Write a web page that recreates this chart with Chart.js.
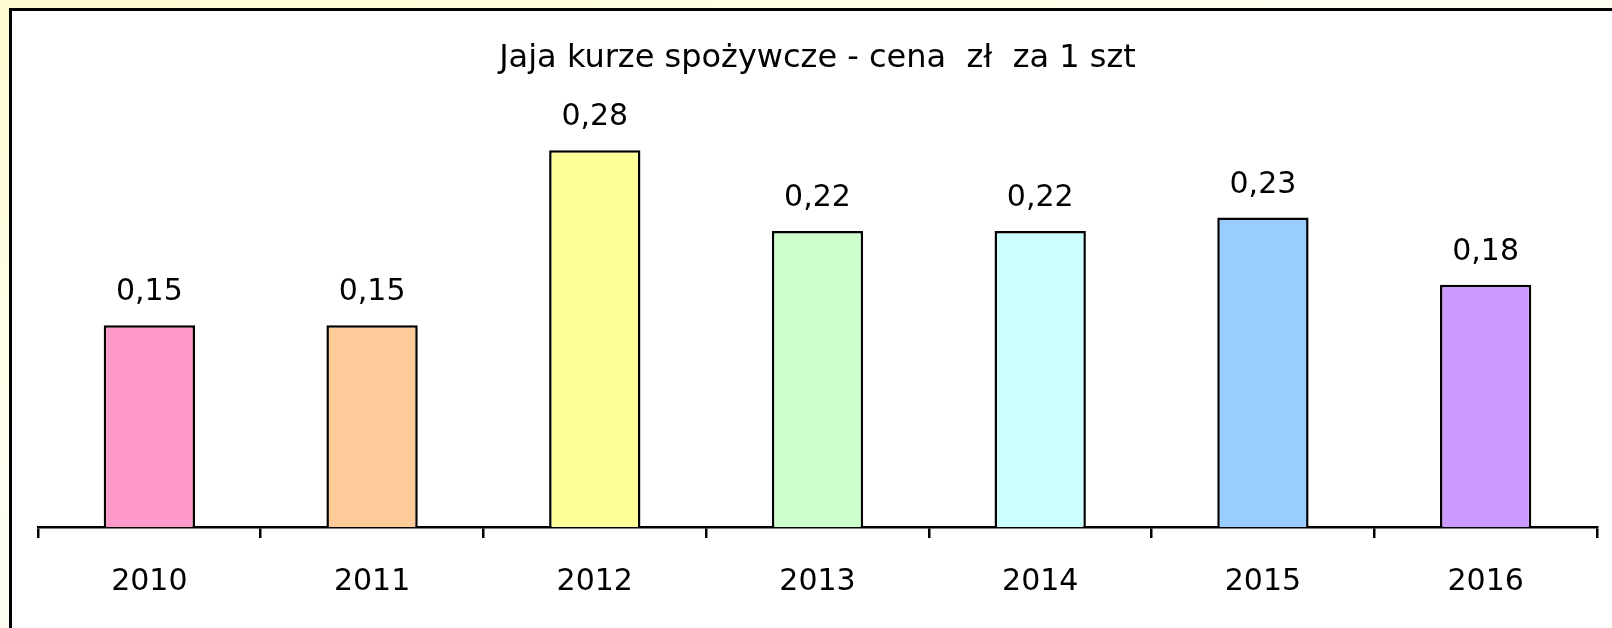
<!DOCTYPE html>
<html>
<head>
<meta charset="utf-8">
<script src="https://cdn.jsdelivr.net/npm/chart.js@4"></script>
<style>
  html, body { margin: 0; padding: 0; }
  body {
    width: 1612px; height: 628px; overflow: hidden; position: relative;
    background: linear-gradient(160deg, #fffbd0 0%, #fffff0 40%, #f4f8e8 85%, #c8c860 100%);
  }
  #frame {
    position: absolute; left: 9px; top: 8px; width: 1620px; height: 640px;
    border-left: 3px solid #000; border-top: 3px solid #000; background: #fff;
  }
  #chart { position: absolute; left: 0; top: 0; }
</style>
</head>
<body>
<div id="frame"></div>
<canvas id="chart" width="1612" height="628"></canvas>
<script>
const years = ['2010', '2011', '2012', '2013', '2014', '2015', '2016'];
const prices = [0.15, 0.15, 0.28, 0.22, 0.22, 0.23, 0.18];
const barColors = ['#ff99cc', '#ffcc99', '#ffff99', '#ccffcc', '#ccffff', '#99ccff', '#cc99ff'];
const chartTitle = 'Jaja kurze spożywcze - cena  zł  za 1 szt';

const fontFamily = '"DejaVu Sans", sans-serif';

// value labels above each bar, Polish decimal comma
const valueLabels = {
  id: 'valueLabels',
  afterDatasetsDraw(chart) {
    const ctx = chart.ctx;
    const meta = chart.getDatasetMeta(0);
    ctx.save();
    ctx.font = '30px ' + fontFamily;
    ctx.fillStyle = '#000';
    ctx.textAlign = 'center';
    ctx.textBaseline = 'alphabetic';
    meta.data.forEach((bar, i) => {
      ctx.fillText(prices[i].toFixed(2).replace('.', ','), bar.x, bar.y - 25);
    });
    ctx.restore();
  }
};

new Chart(document.getElementById('chart'), {
  type: 'bar',
  data: {
    labels: years,
    datasets: [{
      data: prices,
      backgroundColor: barColors,
      borderColor: '#000',
      borderWidth: 2.5,
      borderSkipped: 'bottom',
      categoryPercentage: 1,
      barPercentage: 0.41
    }]
  },
  options: {
    responsive: false,
    animation: false,
    devicePixelRatio: 1,
    layout: { padding: { left: 38, right: 15, top: 0, bottom: 0 } },
    plugins: {
      legend: { display: false },
      tooltip: { enabled: false },
      title: {
        display: true,
        text: chartTitle,
        color: '#000',
        font: { family: fontFamily, size: 32, weight: 'normal', lineHeight: 1.2 },
        padding: { top: 39, bottom: 46 }
      }
    },
    scales: {
      x: {
        offset: true,
        border: { display: true, color: '#000', width: 2.5 },
        grid: { offset: true, drawOnChartArea: false, drawTicks: true, tickLength: 11, color: '#000', lineWidth: 2.5 },
        ticks: { color: '#000', padding: 26, font: { family: fontFamily, size: 30 } },
        afterFit(scale) { scale.height = 101; }
      },
      y: {
        display: false,
        min: 0,
        max: 0.3
      }
    }
  },
  plugins: [valueLabels]
});
</script>
</body>
</html>
